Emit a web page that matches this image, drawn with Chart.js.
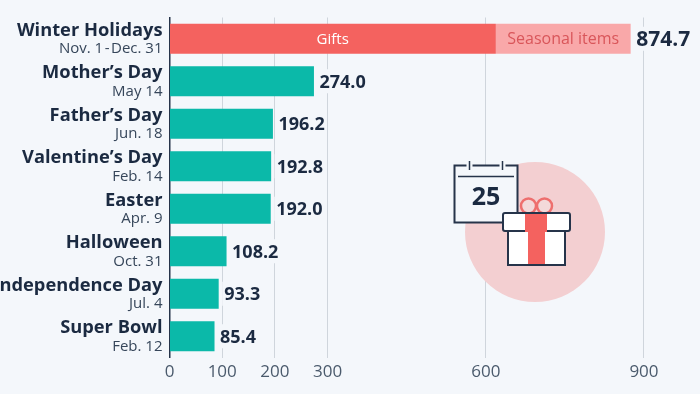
<!DOCTYPE html>
<html>
<head>
<meta charset="utf-8">
<title>Holiday spending</title>
<script src="https://cdn.jsdelivr.net/npm/chart.js@4"></script>
<style>
    html, body { margin: 0; padding: 0; background: #f4f7fb; }
    canvas { display: block; }
</style>
</head>
<body>
<canvas id="grafico" width="700" height="394"></canvas>
<script>
// Data
const categories = ['Winter Holidays', 'Mother\u2019s Day', 'Father\u2019s Day', 'Valentine\u2019s Day', 'Easter', 'Halloween', 'Independence Day', 'Super Bowl'];
const dates = ['Nov. 1\u200a-\u200aDec. 31', 'May 14', 'Jun. 18', 'Feb. 14', 'Apr. 9', 'Oct. 31', 'Jul. 4', 'Feb. 12'];
const baseValues = [619, 274.0, 196.2, 192.8, 192.0, 108.2, 93.3, 85.4];
const seasonalValues = [255.7, 0, 0, 0, 0, 0, 0, 0];
const totals = [874.7, 274.0, 196.2, 192.8, 192.0, 108.2, 93.3, 85.4];
const tickValues = [0, 100, 200, 300, 600, 900];

const FONT = '"Open Sans", sans-serif';
const BG = '#f4f7fb';
const DARK = '#1b2a41';
const RED = '#f4625f';

// Category names, dates and value labels
const labelsPlugin = {
    id: 'labelsPlugin',
    afterDatasetsDraw(chart) {
        const { ctx, scales: { x, y } } = chart;
        ctx.save();
        categories.forEach((name, i) => {
            const cy = y.getPixelForValue(i);
            ctx.textAlign = 'right';
            ctx.textBaseline = 'middle';
            ctx.fillStyle = DARK;
            ctx.font = `700 18.3px ${FONT}`;
            ctx.fillText(name, 162.5, cy - 8);
            ctx.fillStyle = '#36465a';
            ctx.font = `400 15px ${FONT}`;
            ctx.fillText(dates[i], 162.5, cy + 10);

            // value with a patch of background so the grid does not cross it
            const size = i === 0 ? 21 : 18;
            ctx.font = `700 ${size}px ${FONT}`;
            const text = totals[i].toFixed(1);
            const vx = x.getPixelForValue(totals[i]) + 5.5;
            const w = ctx.measureText(text).width;
            ctx.fillStyle = BG;
            ctx.fillRect(vx - 2, cy - 12, w + 4, 24);
            ctx.textAlign = 'left';
            ctx.fillStyle = DARK;
            ctx.fillText(text, vx, cy + 1.5);
        });

        // labels inside the stacked bar
        const top = y.getPixelForValue(0);
        ctx.textAlign = 'center';
        ctx.font = `400 15px ${FONT}`;
        ctx.fillStyle = '#ffffff';
        ctx.fillText('Gifts', x.getPixelForValue(baseValues[0] / 2), top + 1);
        ctx.font = `400 16px ${FONT}`;
        ctx.fillStyle = '#d9565a';
        ctx.fillText('Seasonal items', x.getPixelForValue(baseValues[0] + seasonalValues[0] / 2), top + 1);
        ctx.restore();
    }
};

// Decorative icon: calendar and gift box on a pink circle
const iconPlugin = {
    id: 'iconPlugin',
    afterDatasetsDraw(chart) {
        const { ctx } = chart;
        ctx.save();
        ctx.fillStyle = '#f3cfd1';
        ctx.beginPath();
        ctx.arc(535, 232, 70, 0, Math.PI * 2);
        ctx.fill();

        // calendar
        ctx.strokeStyle = '#26344a';
        ctx.lineWidth = 2;
        ctx.fillStyle = BG;
        ctx.fillRect(454.5, 165.5, 63, 57);
        ctx.strokeRect(454.5, 165.5, 63, 57);
        ctx.lineWidth = 1.5;
        ctx.beginPath();
        ctx.moveTo(458, 176.5); ctx.lineTo(514, 176.5);
        ctx.stroke();
        [469.5, 502.5].forEach(rx => {
            ctx.fillStyle = BG;
            ctx.fillRect(rx - 3, 163, 6, 5);
            ctx.beginPath();
            ctx.moveTo(rx, 161); ctx.lineTo(rx, 170);
            ctx.stroke();
        });
        ctx.fillStyle = DARK;
        ctx.font = `700 25px ${FONT}`;
        ctx.textAlign = 'center';
        ctx.textBaseline = 'middle';
        ctx.fillText('25', 486, 198);

        // bow
        ctx.strokeStyle = '#ee6f6e';
        ctx.lineWidth = 2.5;
        ctx.fillStyle = '#f3d9da';
        [528.5, 544.5].forEach(bx => {
            ctx.beginPath();
            ctx.arc(bx, 206, 7.5, 0, Math.PI * 2);
            ctx.fill();
            ctx.stroke();
        });

        // box
        ctx.strokeStyle = '#26344a';
        ctx.lineWidth = 2;
        ctx.fillStyle = '#ffffff';
        ctx.fillRect(508, 230, 57, 35);
        ctx.strokeRect(508, 230, 57, 35);
        ctx.fillStyle = RED;
        ctx.fillRect(528, 230, 17, 34);

        // lid
        ctx.fillStyle = '#ffffff';
        ctx.beginPath();
        ctx.roundRect(503, 213, 67, 18, 2);
        ctx.fill();
        ctx.stroke();
        ctx.fillStyle = RED;
        ctx.fillRect(525, 214, 22, 18);
        ctx.restore();
    }
};

new Chart(document.getElementById('grafico').getContext('2d'), {
    type: 'bar',
    data: {
        labels: categories,
        datasets: [
            {
                label: 'Gifts',
                data: baseValues,
                backgroundColor: c => c.dataIndex === 0 ? RED : '#0bb9a9',
                categoryPercentage: 0.71,
                barPercentage: 1
            },
            {
                label: 'Seasonal items',
                data: seasonalValues,
                backgroundColor: '#f9a8a9',
                categoryPercentage: 0.71,
                barPercentage: 1
            }
        ]
    },
    options: {
        indexAxis: 'y',
        responsive: false,
        animation: false,
        layout: { padding: { top: 17.5, right: 3.3, bottom: 0, left: 0 } },
        plugins: {
            legend: { display: false },
            tooltip: { enabled: false }
        },
        scales: {
            x: {
                stacked: true,
                min: 0,
                max: 1000,
                afterBuildTicks: scale => { scale.ticks = tickValues.map(v => ({ value: v })); },
                afterFit: scale => { scale.height = 36.5; },
                grid: { color: '#cfd5dc', lineWidth: 1, drawTicks: false },
                border: { display: false },
                ticks: {
                    autoSkip: false,
                    maxRotation: 0,
                    padding: 4,
                    color: '#4a5a6c',
                    font: { family: FONT, size: 17 }
                }
            },
            y: {
                stacked: true,
                afterFit: scale => { scale.width = 169.5; },
                grid: { display: false },
                border: { display: true, color: '#26344a', width: 1.5 },
                ticks: { display: false }
            }
        }
    },
    plugins: [iconPlugin, labelsPlugin]
});
</script>
</body>
</html>
